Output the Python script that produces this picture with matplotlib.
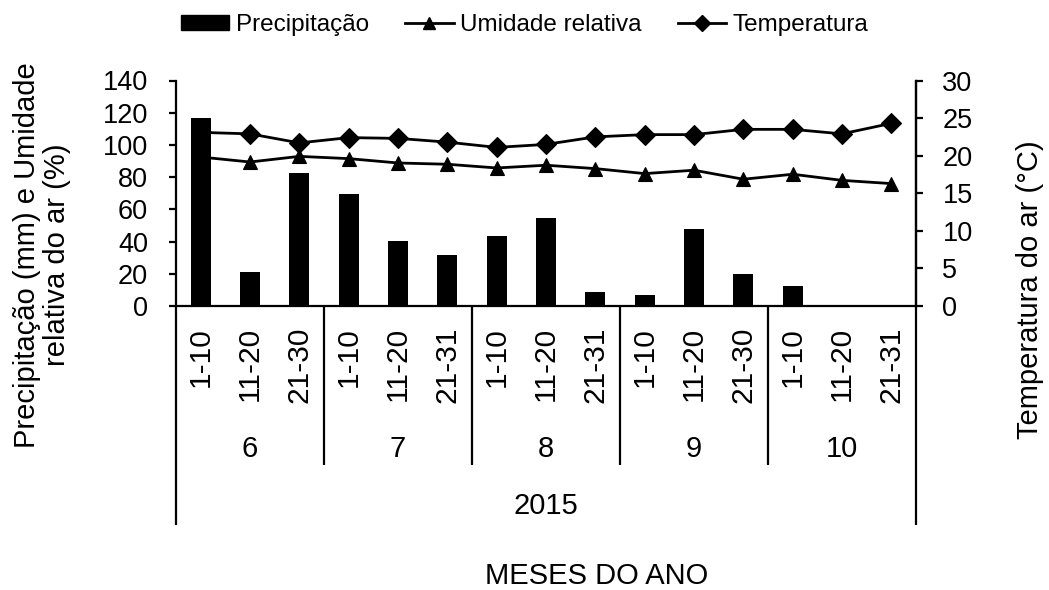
import matplotlib
matplotlib.use("Agg")
import matplotlib.pyplot as plt
from matplotlib.lines import Line2D
from matplotlib.patches import Patch
import numpy as np

plt.rcParams['font.family'] = ['Liberation Sans', 'DejaVu Sans']

# Ten-day periods (decêndios) of each month, June–October 2015
dekads = ['1-10', '11-20', '21-30', '1-10', '11-20', '21-31', '1-10', '11-20', '21-31',
          '1-10', '11-20', '21-30', '1-10', '11-20', '21-31']
months = ['6', '7', '8', '9', '10']
year = '2015'

precipitacao = [116.5, 21.3, 82.6, 69.4, 40.3, 31.6, 43.4, 54.5, 8.5,
                6.8, 48.1, 19.6, 12.4, 0.0, 0.0]          # mm
umidade = [92.5, 89.4, 92.9, 91.5, 88.8, 88.0, 85.7, 87.4, 85.3,
           82.2, 84.3, 78.7, 81.8, 78.0, 76.0]            # %
temperatura = [23.1, 22.9, 21.7, 22.4, 22.3, 21.8, 21.1, 21.5, 22.5,
               22.8, 22.8, 23.5, 23.5, 22.9, 24.3]        # °C

W, H = 1049, 590
fig = plt.figure(figsize=(W / 100, H / 100), dpi=100)
ax = fig.add_axes([176 / W, 1 - 306 / H, (916 - 176) / W, (306 - 80.5) / H])
ax2 = ax.twinx()

x = np.arange(len(dekads))
lw = 2.0
ax.bar(x, precipitacao, width=0.41, color='black', zorder=3)
ax.plot(x, umidade, color='black', lw=lw, marker='^', ms=10.5,
        markeredgewidth=0.8, zorder=4)
ax2.plot(x, temperatura, color='black', lw=lw, marker='D', ms=10.5,
         markeredgewidth=0.8, zorder=4)

ax.set_xlim(-0.5, len(dekads) - 0.5)
ax.set_ylim(0, 140)
ax.set_yticks(np.arange(0, 141, 20))
ax2.set_ylim(0, 30)
ax2.set_yticks(np.arange(0, 31, 5))

spine_w = 1.6
for a in (ax, ax2):
    a.spines['top'].set_visible(False)
    for s in a.spines.values():
        s.set_linewidth(spine_w)
ax2.spines['left'].set_visible(False)
ax2.spines['bottom'].set_visible(False)

ax.tick_params(axis='y', direction='out', length=5, width=spine_w,
               labelsize=19.5, pad=15)
ax2.tick_params(axis='y', direction='out', length=5, width=spine_w,
                labelsize=19.5, pad=14)
ax.set_xticks(x)
ax.set_xticklabels(dekads, rotation=90, fontsize=21.5)
ax.tick_params(axis='x', length=0, pad=15)

# Hierarchical category axis: month separators, month names, year
trans = ax.get_xaxis_transform()
ax_h = 306 - 80.5
def yfrac(py):
    return (306 - py) / ax_h

n_per = 3
bounds = np.arange(-0.5, len(dekads), n_per)
for i, b in enumerate(bounds):
    outer = i == 0 or i == len(bounds) - 1
    y_end = yfrac(525) if outer else yfrac(465)
    ax.plot([b, b], [0, y_end], color='black', lw=spine_w, transform=trans,
            clip_on=False, solid_capstyle='butt')
for i, m in enumerate(months):
    ax.text(i * n_per + 1, yfrac(449), m, transform=trans, ha='center',
            va='center', fontsize=21)
ax.text((len(dekads) - 1) / 2, yfrac(506), year, transform=trans,
        ha='center', va='center', fontsize=21)

fig.text(597 / W, 1 - 576 / H, 'MESES DO ANO', ha='center', va='center',
         fontsize=21)
fig.text(42 / W, 1 - 255 / H, 'Precipitação (mm) e Umidade\nrelativa do ar (%)',
         rotation=90, ha='center', va='center', multialignment='center',
         fontsize=21, linespacing=1.05)
fig.text(1030 / W, 1 - 290 / H, 'Temperatura do ar (°C)', rotation=90,
         ha='center', va='center', fontsize=21)

handles = [
    Patch(facecolor='black', edgecolor='black'),
    Line2D([], [], color='black', lw=lw, marker='^', ms=8.5),
    Line2D([], [], color='black', lw=lw, marker='D', ms=8),
]
fig.legend(handles, ['Precipitação', 'Umidade relativa', 'Temperatura'],
           loc='center', bbox_to_anchor=(0.5, 1 - 25 / H), ncol=3,
           frameon=False, fontsize=17.5, handlelength=2.0, handleheight=0.55,
           handletextpad=0.25, columnspacing=1.5)

fig.savefig('out.png', dpi=100)
